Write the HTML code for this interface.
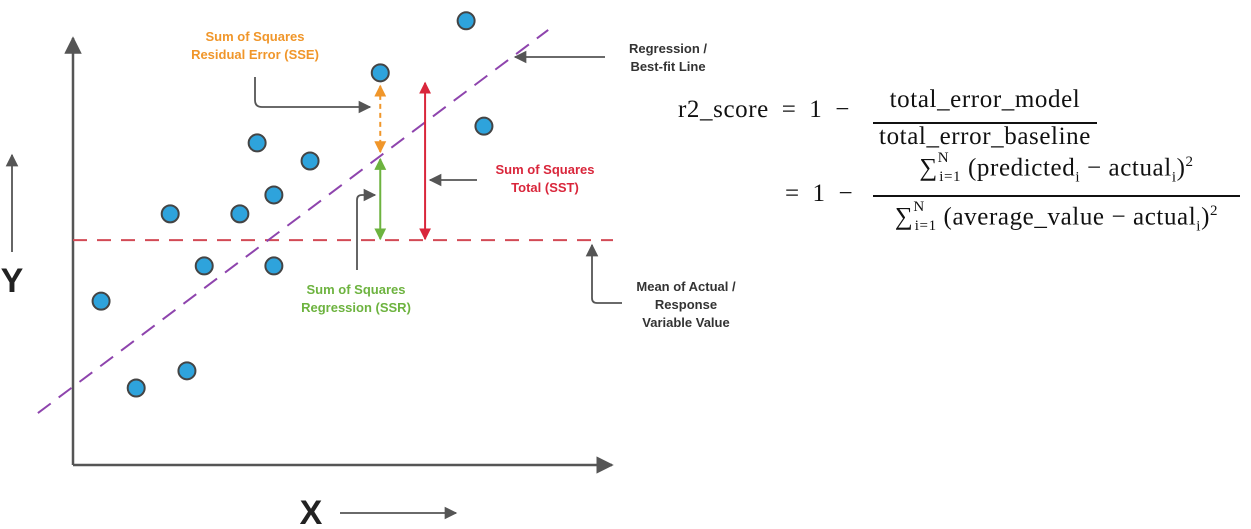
<!DOCTYPE html>
<html><head><meta charset="utf-8">
<style>
body{margin:0;width:1251px;height:529px;background:#fff;overflow:hidden;position:relative;font-family:"Liberation Sans",sans-serif}
.m{position:absolute;font-family:"Liberation Serif",serif;font-size:25px;letter-spacing:0.6px;color:#111;white-space:nowrap}
.fl{position:absolute;height:2px;background:#111}
sub,sup{font-size:15px}
</style></head><body>
<svg width="1251" height="529" style="position:absolute;left:0;top:0">
<defs>
<marker id="ag" viewBox="0 0 10 10" refX="9" refY="5" markerWidth="7" markerHeight="7" orient="auto-start-reverse"><path d="M0,0L10,5L0,10z" fill="#555"/></marker>
<marker id="ao" viewBox="0 0 10 10" refX="9" refY="5" markerWidth="6" markerHeight="6" orient="auto-start-reverse"><path d="M0,0L10,5L0,10z" fill="#f0962a"/></marker>
<marker id="agr" viewBox="0 0 10 10" refX="9" refY="5" markerWidth="6" markerHeight="6" orient="auto-start-reverse"><path d="M0,0L10,5L0,10z" fill="#6db33f"/></marker>
<marker id="ar" viewBox="0 0 10 10" refX="9" refY="5" markerWidth="6" markerHeight="6" orient="auto-start-reverse"><path d="M0,0L10,5L0,10z" fill="#d9263b"/></marker>
</defs>
<g id="axes" stroke="#555" stroke-width="2.5" fill="none">
<line x1="73" y1="465" x2="73" y2="38" marker-end="url(#ag)"/>
<line x1="73" y1="465" x2="612" y2="465" marker-end="url(#ag)"/>
</g>
<g id="marks"></g>
<g stroke="#555" stroke-width="1.8" fill="none">
<path d="M255,77 V100 Q255,107 262,107 H370" marker-end="url(#ag)"/>
<line x1="605" y1="57" x2="515" y2="57" marker-end="url(#ag)"/>
<line x1="477" y1="180" x2="430" y2="180" marker-end="url(#ag)"/>
<path d="M357,270 V200 Q357,195 362,195 H375" marker-end="url(#ag)"/>
<path d="M622,303 H597 Q592,303 592,298 V245" marker-end="url(#ag)"/>
<line x1="12" y1="252" x2="12" y2="155" marker-end="url(#ag)"/>
<line x1="340" y1="513" x2="456" y2="513" marker-end="url(#ag)"/>
</g>
<g font-weight="bold" font-size="13" text-anchor="middle">
<text x="255" y="41" fill="#f0962a"><tspan x="255">Sum of Squares</tspan><tspan x="255" dy="18">Residual Error (SSE)</tspan></text>
<text x="545" y="174" fill="#d9263b"><tspan x="545">Sum of Squares</tspan><tspan x="545" dy="18">Total (SST)</tspan></text>
<text x="356" y="294" fill="#6db33f"><tspan x="356">Sum of Squares</tspan><tspan x="356" dy="18">Regression (SSR)</tspan></text>
<text x="668" y="53" fill="#333"><tspan x="668">Regression /</tspan><tspan x="668" dy="18">Best-fit Line</tspan></text>
<text x="686" y="291" fill="#333"><tspan x="686">Mean of Actual /</tspan><tspan x="686" dy="18">Response</tspan><tspan x="686" dy="18">Variable Value</tspan></text>
</g>
<text x="12" y="292" font-size="34" font-weight="bold" fill="#222" text-anchor="middle">Y</text>
<text x="311" y="524" font-size="34" font-weight="bold" fill="#222" text-anchor="middle">X</text>
</svg>

<div class="m" style="left:678px;top:96px;word-spacing:6px">r2_score = 1 −</div>
<div class="m" style="left:873px;top:86px;width:224px;text-align:center">total_error_model</div>
<div class="fl" style="left:873px;top:122px;width:224px"></div>
<div class="m" style="left:863px;top:123px;width:244px;text-align:center">total_error_baseline</div>
<div class="m" style="left:785px;top:180px;word-spacing:6px">= 1 −</div>
<div class="m" style="left:863px;top:154px;width:387px;text-align:center">∑<sup style="position:relative;top:-4px">N</sup><sub style="margin-left:-10px">i=1</sub> (predicted<sub>i</sub> − actual<sub>i</sub>)<sup>2</sup></div>
<div class="fl" style="left:873px;top:195px;width:367px"></div>
<div class="m" style="left:863px;top:203px;width:387px;text-align:center">∑<sup style="position:relative;top:-4px">N</sup><sub style="margin-left:-10px">i=1</sub> (average_value − actual<sub>i</sub>)<sup>2</sup></div>

<script>
const xs = [7.28,5.69,7.61,3.41,4.39,3.72,1.80,3.09,2.43,3.72,0.52,2.11,1.17];
const ys = [10.33,9.12,7.88,7.49,7.07,6.28,5.84,5.84,4.63,4.63,3.81,2.19,1.79];
const meanY = [5.23];
const regSlope = [0.943];
const regIntercept = [1.82];
const sampleX = [5.69];
const sstX = [6.52];

const sx = v => 73 + v*54;
const sy = v => 465 - v*43;
const NS='http://www.w3.org/2000/svg';
const g = document.getElementById('marks');
function mk(t,a){const e=document.createElementNS(NS,t);for(const k in a)e.setAttribute(k,a[k]);g.appendChild(e);return e;}

const mean = mk('line',{x1:sx(0),x2:sx(10),y1:sy(meanY[0]),y2:sy(meanY[0]),stroke:'#d24a55','stroke-width':2,'stroke-dasharray':'14,10'});



const x0=-0.65,x1=8.8;
const reg = mk('line',{x1:sx(x0),y1:sy(regIntercept[0]+regSlope[0]*x0),x2:sx(x1),y2:sy(regIntercept[0]+regSlope[0]*x1),stroke:'#8e44ad','stroke-width':2,'stroke-dasharray':'16,10'});



const px=sx(sampleX[0]);
const pred=regIntercept[0]+regSlope[0]*sampleX[0];
const yPt=ys[1];
const sse = mk('line',{x1:px,x2:px,y1:sy(yPt)+13,y2:sy(pred)-4,stroke:'#f0962a','stroke-width':2,'stroke-dasharray':'5,4','marker-start':'url(#ao)','marker-end':'url(#ao)'});


const ssr = mk('line',{x1:px,x2:px,y1:sy(pred)+3,y2:sy(meanY[0])-1,stroke:'#6db33f','stroke-width':2,'marker-start':'url(#agr)','marker-end':'url(#agr)'});


const sst = mk('line',{x1:sx(sstX[0]),x2:sx(sstX[0]),y1:sy(yPt)+10,y2:sy(meanY[0])-1,stroke:'#d9263b','stroke-width':2,'marker-start':'url(#ar)','marker-end':'url(#ar)'});



xs.forEach((x,i)=>{
  const c = mk('circle',{cx:sx(x),cy:sy(ys[i]),r:8.5,fill:'#2ea3dc',stroke:'#444','stroke-width':2});
  
  
});
</script>
</body></html>
